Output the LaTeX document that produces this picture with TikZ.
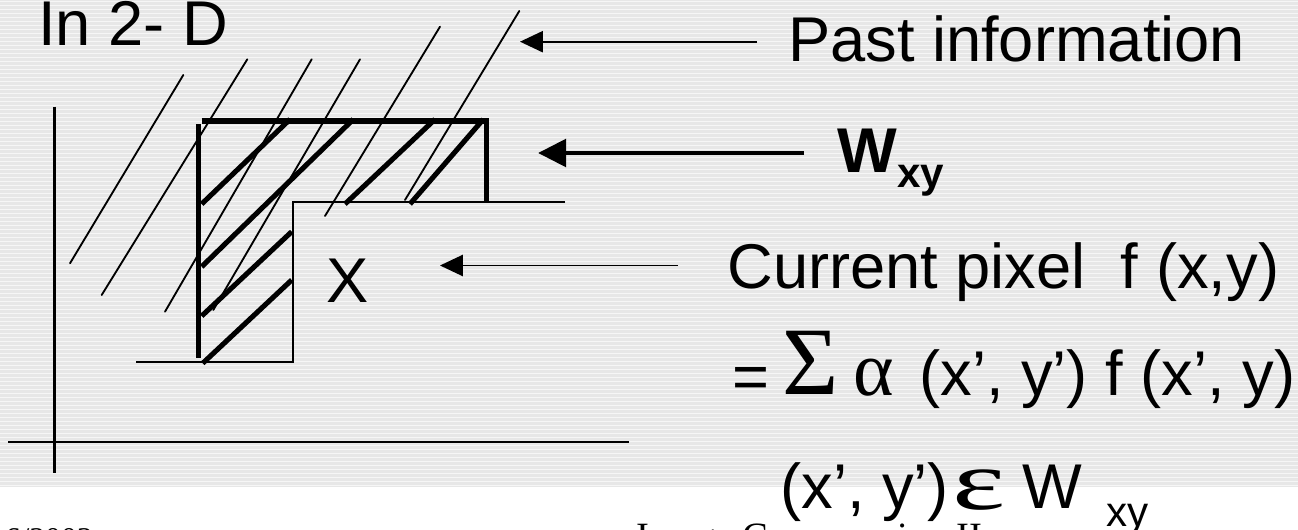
\documentclass[tikz,border=0pt]{standalone}
\usepackage{fontspec}
\setmainfont{Liberation Sans}
\newfontfamily\serifgreek{Liberation Serif}
\usetikzlibrary{arrows.meta}
\definecolor{bgcol}{RGB}{231,231,231}
\definecolor{stripecol}{RGB}{246,246,246}
\begin{document}
\begin{tikzpicture}[x=0.02cm,y=-0.02cm,
  thinline/.style={line width=1.05pt,line cap=round},
  axisline/.style={line width=1.3pt},
  thickline/.style={line width=2.9pt},
  stripe/.style={draw=stripecol,line width=0.7pt},
  lbl/.style={inner sep=0pt,anchor=base west,font=\fontsize{36}{43}\selectfont},
  greek/.style={inner sep=0pt,anchor=base west},
  foot/.style={inner sep=0pt,font=\serifgreek\fontsize{22}{26}\selectfont},
  thinarrow/.style={line width=1.1pt,-{Triangle[length=13pt,width=12pt]}},
  thickarrow/.style={line width=2.8pt,-{Triangle[length=16pt,width=15.5pt]}}]
\useasboundingbox (0,0) rectangle (1298,530);
\clip (0,0) rectangle (1298,530);
% background stripes
\fill[bgcol] (0,0) rectangle (1298,487);
\foreach \i in {0,...,121} \draw[stripe] (0,\i*4+1.5) -- (1298,\i*4+1.5);
% axes
\coordinate (va1) at (54.5,106.7);
\coordinate (va2) at (54.5,473);
\coordinate (ha1) at (8,442);
\coordinate (ha2) at (629,442);
\draw[axisline] (va1) -- (va2);
\draw[axisline] (ha1) -- (ha2);
% thin L outline (current row boundary)
\coordinate (l1) at (565,202);
\coordinate (l2) at (293,202);
\coordinate (l3) at (293,361.7);
\coordinate (l4) at (136,361.7);
\draw[line width=1.2pt] (l1) -- (l2) -- (l3) -- (l4);
% thick window W_xy
\coordinate (w1) at (201.7,121);
\coordinate (w2) at (486.7,121);
\coordinate (w3) at (486.7,203);
\coordinate (w4) at (198.5,124);
\coordinate (w5) at (198.5,358);
\draw[thickline] (w1) -- (w2) -- (w3);
\draw[thickline] (w4) -- (w5);
% thick hatching
\foreach \a/\b/\c/\d in {201.7/204/290/119.3, 201.7/266.7/353.3/119.3, 201.7/316/291.7/231.7,
  202.7/363.3/291.7/280, 345/204/435/119.3, 410/204/483.3/119.3}
  \draw[thickline] (\a,\b) -- (\c,\d);
% thin hatching (past information)
\foreach \a/\b/\c/\d in {183.3/75/70/263.3, 247.3/59.3/101.7/295, 311.7/59.3/165/311.7,
  360/59.3/213.3/310, 440/26.7/325/216, 519.3/11/405/200}
  \draw[thinline] (\a,\b) -- (\c,\d);
% labels
\node[lbl] (in2d) at (38,46) {In 2- D};
\node[lbl] (past) at (787.7,62) {Past information};
\node[lbl] (wxy) at (837,173) {\bfseries W\raisebox{-8.5pt}{\fontsize{24}{24}\selectfont xy}};
\node[lbl] (xpix) at (326.5,302) {X};
\node[lbl] (cur) at (727,288) {Current pixel\ \ f (x,y)};
\node[lbl] (eq) at (732,398) {=};
\node[greek,font=\serifgreek\fontsize{55}{60}\selectfont] (sig) at (782,394) {Σ};
\node[greek,font=\serifgreek\fontsize{44}{48}\selectfont] (alp) at (853,395) {α};
\node[lbl] (sum) at (919,395) {(x’, y’) f (x’, y)};
\node[lbl] (rng) at (780,508) {(x’, y’)};
\node[greek,font=\serifgreek\fontsize{48}{52}\selectfont] (eps) at (952,509) {\scalebox{1.5}[1]{ε}};
\node[lbl] (wr) at (1022,508) {W};
\node[inner sep=0pt,anchor=base west,font=\fontsize{24}{26}\selectfont] (wsub) at (1106,526) {xy};
% footer
\node[foot,anchor=base east,font=\serifgreek\fontsize{18}{20}\selectfont] (date) at (93,549) {6/2003};
\node[foot,anchor=base west] (title) at (636,549) {Image Compression II};
% arrows
\coordinate (pa) at (757,41.7);
\coordinate (pb) at (520,41.7);
\coordinate (wa) at (804,153);
\coordinate (wb) at (538,153);
\coordinate (ca) at (678,265.5);
\coordinate (cb) at (440,265.5);
\draw[thinarrow] (pa) -- (pb);
\draw[thickarrow] (wa) -- (wb);
\draw[thinarrow] (ca) -- (cb);
\end{tikzpicture}
\end{document}
